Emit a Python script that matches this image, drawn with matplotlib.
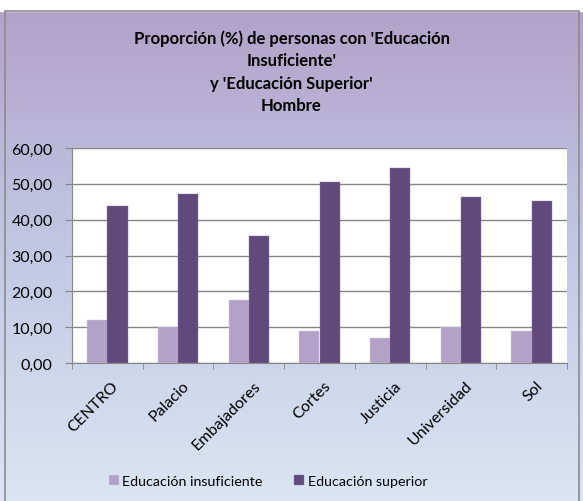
import numpy as np
import matplotlib.pyplot as plt
from matplotlib.patches import Rectangle
from matplotlib.colors import LinearSegmentedColormap

# data
barrios = ["CENTRO", "Palacio", "Embajadores", "Cortes", "Justicia", "Universidad", "Sol"]
ed_insuficiente = [12.1, 10.1, 17.5, 8.9, 7.0, 10.0, 9.0]
ed_superior = [43.9, 47.2, 35.4, 50.4, 54.5, 46.4, 45.2]
yticks = [0, 10, 20, 30, 40, 50, 60]

plt.rcParams['font.family'] = ['Lato', 'DejaVu Sans']

W, H = 583, 502
fig = plt.figure(figsize=(W / 100, H / 100), dpi=100)

# gradient background (purple top -> light blue bottom)
bg = fig.add_axes([0, 0, 1, 1], zorder=-10)
cmap = LinearSegmentedColormap.from_list("bg", ["#b1a0c7", "#c2c8e4", "#dbe5f3"])
grad = np.linspace(0, 1, 256).reshape(-1, 1)
bg.imshow(grad, aspect="auto", cmap=cmap, extent=[0, W, 0, H], origin="upper")
bg.add_patch(Rectangle((0, H - 12), W, 12, color="white"))
bg.add_patch(Rectangle((5, -5), 574, H - 12 + 5, fill=False, edgecolor="#8c8c8c", lw=1.2))
bg.set_xlim(0, W)
bg.set_ylim(0, H)
bg.axis("off")

ax = fig.add_axes([72 / W, 1 - 364 / H, (567 - 72) / W, (364 - 149) / H])
ax.set_facecolor("white")

x = np.arange(len(barrios))
bw = 0.285
ax.bar(x - bw / 2, ed_insuficiente, bw, color="#b3a2c7", edgecolor="#d6cde3", lw=0.3,
       label="Educación insuficiente", zorder=3)
ax.bar(x + bw / 2, ed_superior, bw, color="#604a7b", edgecolor="#8a7aa0", lw=0.3,
       label="Educación superior", zorder=3)

ax.set_xlim(-0.5, len(barrios) - 0.5)
ax.set_ylim(0, 60)
ax.set_yticks(yticks)
ax.set_yticklabels([f"{v:.2f}".replace(".", ",") for v in yticks], fontsize=11.5)
ax.yaxis.grid(True, color="#868686", lw=1, zorder=0)
ax.set_axisbelow(True)

ax.set_xticks(x + 0.06)
ax.set_xticklabels(barrios, rotation=45, ha="right", rotation_mode="anchor", fontsize=11.5)
ax.set_xticks(np.arange(-0.5, len(barrios)), minor=True)
ax.tick_params(axis="x", which="major", length=0, pad=11)
ax.tick_params(axis="x", which="minor", length=4, color="#868686")
ax.tick_params(axis="y", length=5, color="#868686", pad=9)

for s in ["top", "right"]:
    ax.spines[s].set_visible(False)
ax.spines["left"].set_color("#868686")
ax.spines["bottom"].set_color("#868686")

fig.text(0.5, 1 - 30 / H,
         "Proporción (%) de personas con 'Educación\nInsuficiente'\ny 'Educación Superior'\nHombre",
         ha="center", va="top", fontsize=12, fontweight="bold", linespacing=1.5)

fig.legend(loc="center", bbox_to_anchor=(268 / W, 1 - 482 / H), ncol=2, frameon=False,
           fontsize=10.3, handlelength=0.7, handleheight=0.7, handletextpad=0.25,
           columnspacing=2.2)

fig.savefig("out.png", dpi=100)
